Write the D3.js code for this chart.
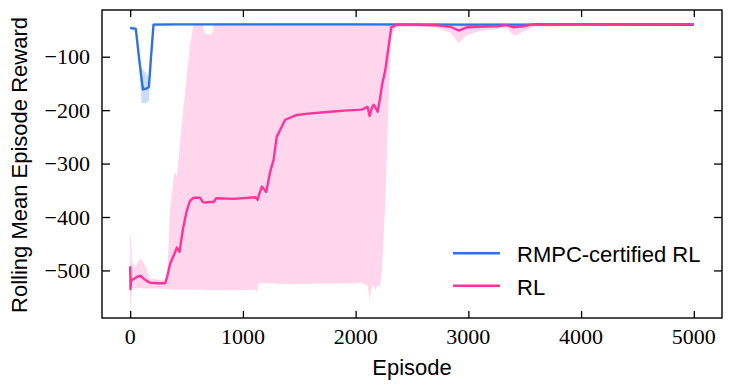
<!DOCTYPE html>
<html>
<head>
<meta charset="utf-8">
<script src="https://cdn.jsdelivr.net/npm/d3@7"></script>
</head>
<body style="margin:0">
<svg id="chart" width="732" height="390"></svg>
<script>
// ---------------- data ----------------
const seriesNames = ["RMPC-certified RL", "RL"];

const rmpcEpisodes = [0, 50, 80, 100, 113, 140, 166, 185, 207, 400, 1000, 2000, 3000, 4000, 5000];
const rmpcMean     = [-46, -48, -105, -140, -161, -160, -157, -100, -40, -39.5, -39.5, -39.5, -40, -40, -40.5];
const rmpcLower    = [-50, -52, -115, -185, -187, -187, -182, -110, -43, -41, -41, -41, -42, -42, -42];
const rmpcUpper    = [-44, -44, -95, -120, -125, -130, -140, -90, -37, -38, -38, -38, -38, -38, -39];

const rlEpisodes = [0, 3, 8, 15, 40, 60, 90, 118, 150, 177, 250, 311, 330, 355, 390, 400, 414, 438, 470, 500, 530, 562,
  621, 645, 665, 700, 725, 740, 763, 920, 1109, 1124, 1130, 1140, 1168, 1207, 1242, 1272, 1300, 1331, 1375, 1479,
  1600, 1775, 1900, 2056, 2106, 2124, 2145, 2160, 2175, 2195, 2215, 2234, 2263, 2293, 2316, 2366, 2500, 2700,
  2840, 2914, 2987, 3100, 3250, 3342, 3401, 3440, 3490, 3578, 4000, 4500, 5000];
const rlMean = [-492, -535, -515, -518, -515, -512, -510, -515, -520, -523, -524, -524, -510, -487, -470, -465, -457, -465, -420, -390, -370, -364,
  -364, -372, -373, -372, -372, -372, -365, -366, -363, -366, -368, -360, -343, -353, -315, -293, -250, -237, -218, -209,
  -206, -203, -201, -199, -194, -211, -195, -190, -195, -203, -180, -153, -125, -80, -45, -40, -40, -41,
  -44, -51, -45, -44, -43, -41, -45, -44, -43, -39, -39, -39, -39];
const rlLower = [-565, -565, -560, -533, -534, -533, -533, -534, -534, -534, -534, -535, -535, -535, -536, -536, -536, -536, -536, -536, -536, -536,
  -536, -536, -537, -537, -537, -537, -537, -537, -536, -541, -536, -524, -524, -524, -524, -524, -525, -525, -525, -526,
  -525, -525, -524, -524, -528, -556, -530, -527, -537, -528, -530, -500, -370, -181, -60, -45, -44, -45,
  -55, -75, -60, -52, -48, -46, -60, -59, -52, -44, -42, -41, -41];
const rlUpper = [-431, -431, -440, -482, -495, -488, -477, -485, -500, -515, -517, -517, -500, -383, -322, -315, -325, -270, -200, -140, -80, -40,
  -38, -40, -58, -58, -58, -40, -38, -38, -38, -38, -38, -38, -38, -38, -38, -38, -38, -38, -38, -38,
  -38, -38, -38, -38, -38, -38, -38, -38, -38, -38, -38, -38, -38, -38, -37, -37, -37, -37,
  -38, -42, -39, -39, -38, -38, -40, -39, -39, -37, -37, -37, -37];

const xTicks = [0, 1000, 2000, 3000, 4000, 5000];
const yTicks = [-500, -400, -300, -200, -100];
const xLabel = "Episode";
const yLabel = "Rolling Mean Episode Reward";

// ---------------- drawing ----------------
const svg = d3.select("#chart");
const L = 102, R = 722, T = 10, B = 318;
const x = d3.scaleLinear().domain([-250, 5250]).range([L, R]);
const y = d3.scaleLinear().domain([-589, -12.6]).range([B, T]);

const blue = "#2f74de", pink = "#ff3399";
const fmt = d3.format("d");

// tick labels first (serif), positioned with the scales
const labels = svg.append("g");
labels.selectAll("text.xt").data(xTicks).join("text").attr("class", "xt")
  .attr("x", d => x(d)).attr("y", 343.5).attr("text-anchor", "middle")
  .attr("font-family", "Liberation Serif").attr("font-size", 22).attr("fill", "#000").text(fmt);
labels.selectAll("text.yt").data(yTicks).join("text").attr("class", "yt")
  .attr("x", L - 12).attr("y", d => y(d) + 7.5).attr("text-anchor", "end")
  .attr("font-family", "Liberation Serif").attr("font-size", 22).attr("fill", "#000").text(fmt);

function rows(ep, m, lo, hi) { return ep.map((e, i) => ({e, m: m[i], lo: lo[i], hi: hi[i]})); }
const rmpc = rows(rmpcEpisodes, rmpcMean, rmpcLower, rmpcUpper);
const rl = rows(rlEpisodes, rlMean, rlLower, rlUpper);

const area = d3.area().x(d => x(d.e)).y0(d => y(d.lo)).y1(d => y(d.hi));
const line = d3.line().x(d => x(d.e)).y(d => y(d.m));

const plot = svg.append("g");
plot.append("path").datum(rmpc).attr("d", area).attr("fill", blue).attr("fill-opacity", 0.25);
plot.append("path").datum(rl).attr("d", area).attr("fill", pink).attr("fill-opacity", 0.2);
plot.append("path").datum(rmpc).attr("d", line).attr("fill", "none").attr("stroke", blue).attr("stroke-width", 2.4).attr("stroke-linejoin", "round");
plot.append("path").datum(rl).attr("d", line).attr("fill", "none").attr("stroke", pink).attr("stroke-width", 2.4).attr("stroke-linejoin", "round");

// tick marks via d3 axes (inward, on all four sides)
function styleTicks(g) {
  g.attr("font-family", null).attr("font-size", null);
  g.select(".domain").remove();
  g.selectAll(".tick line").attr("stroke", "#000").attr("stroke-width", 1.3);
  g.selectAll(".tick text").remove();
}
svg.append("g").attr("transform", `translate(0,${B})`)
  .call(d3.axisBottom(x).tickValues(xTicks).tickSize(-7)).call(styleTicks);
svg.append("g").attr("transform", `translate(0,${T})`)
  .call(d3.axisTop(x).tickValues(xTicks).tickSize(-7)).call(styleTicks);
svg.append("g").attr("transform", `translate(${L},0)`)
  .call(d3.axisLeft(y).tickValues(yTicks).tickSize(-8)).call(styleTicks);
svg.append("g").attr("transform", `translate(${R},0)`)
  .call(d3.axisRight(y).tickValues(yTicks).tickSize(-8)).call(styleTicks);

svg.append("rect").attr("x", L).attr("y", T).attr("width", R - L).attr("height", B - T)
  .attr("fill", "none").attr("stroke", "#000").attr("stroke-width", 1.4);

// axis labels
svg.append("text").attr("x", (L + R) / 2).attr("y", 375).attr("text-anchor", "middle")
  .attr("font-family", "Liberation Sans").attr("font-size", 22).text(xLabel);
svg.append("text").attr("transform", `translate(27,${(T + B) / 2 + 1}) rotate(-90)`).attr("text-anchor", "middle")
  .attr("font-family", "Liberation Sans").attr("font-size", 22).text(yLabel);

// legend
const legend = svg.append("g");
[[seriesNames[0], blue, 253.3], [seriesNames[1], pink, 285.7]].forEach(([name, c, ly]) => {
  legend.append("line").attr("x1", 453).attr("x2", 500).attr("y1", ly).attr("y2", ly)
    .attr("stroke", c).attr("stroke-width", 2.4);
  legend.append("text").attr("x", 517).attr("y", ly + 9)
    .attr("font-family", "Liberation Sans").attr("font-size", 22).text(name);
});
</script>
</body>
</html>
